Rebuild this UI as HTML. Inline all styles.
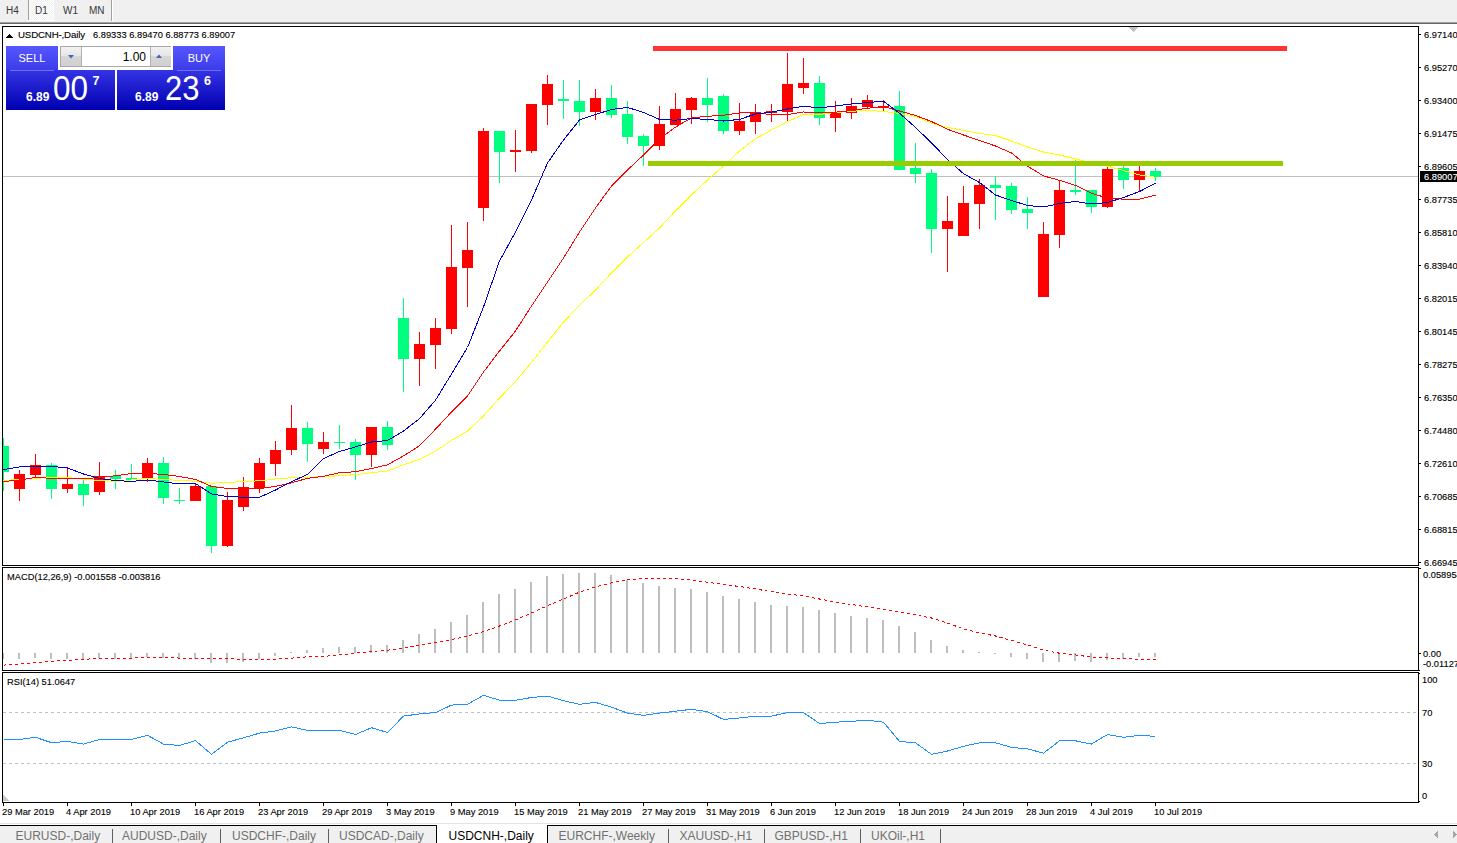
<!DOCTYPE html>
<html><head><meta charset="utf-8"><style>
html,body{margin:0;padding:0;background:#fff;width:1457px;height:843px;overflow:hidden;}
svg{position:absolute;left:0;top:0;}
.t text{font-family:"Liberation Sans", sans-serif;font-size:9.7px;fill:#000;stroke:#000;stroke-width:0.12px;}
.tb text{font-family:"Liberation Sans", sans-serif;font-size:10px;fill:#383838;}
.tabs text{font-family:"Liberation Sans", sans-serif;font-size:12px;}
#panel{position:absolute;left:6px;top:46px;width:219px;height:64px;font-family:"Liberation Sans", sans-serif;}
.btn{position:absolute;color:#fff;text-align:center;font-size:11px;}
</style></head><body>
<svg width="1457" height="843" viewBox="0 0 1457 843" shape-rendering="crispEdges">
<rect x="0" y="0" width="1457" height="22" fill="#F0F0F0"/>
<rect x="0" y="22" width="1457" height="1" fill="#A0A0A0"/>
<rect x="0" y="23" width="1457" height="1" fill="#696969"/>
<defs><pattern id="chk" width="2" height="2" patternUnits="userSpaceOnUse"><rect width="2" height="2" fill="#F0F0F0"/><rect width="1" height="1" fill="#FFFFFF"/><rect x="1" y="1" width="1" height="1" fill="#FFFFFF"/></pattern></defs>
<rect x="29" y="0" width="24" height="20" fill="url(#chk)"/>
<rect x="28" y="0" width="1" height="20" fill="#A0A0A0"/>
<rect x="28" y="20" width="26" height="1" fill="#FFFFFF"/>
<rect x="53" y="0" width="1" height="21" fill="#FFFFFF"/>
<rect x="111" y="0" width="1" height="21" fill="#A0A0A0"/>
<rect x="112" y="0" width="1" height="21" fill="#FFFFFF"/>
<rect x="2" y="26" width="1417" height="1" fill="#000000"/>
<rect x="2" y="565" width="1417" height="1" fill="#000000"/>
<rect x="2" y="26" width="1" height="540" fill="#000000"/>
<rect x="1418" y="26" width="1" height="540" fill="#000000"/>
<rect x="2" y="567" width="1417" height="1" fill="#000000"/>
<rect x="2" y="670" width="1417" height="1" fill="#000000"/>
<rect x="2" y="567" width="1" height="104" fill="#000000"/>
<rect x="1418" y="567" width="1" height="104" fill="#000000"/>
<rect x="2" y="672" width="1417" height="1" fill="#000000"/>
<rect x="2" y="802" width="1417" height="1" fill="#000000"/>
<rect x="2" y="672" width="1" height="131" fill="#000000"/>
<rect x="1418" y="672" width="1" height="131" fill="#000000"/>
<polygon points="1129,27 1138,27 1133.5,32" fill="#C0C0C0"/>
<polygon points="3,795 3,801 9,801" fill="#C8C8C8"/>
<defs><clipPath id="cm"><rect x="3" y="27" width="1415" height="538"/></clipPath><clipPath id="cmacd"><rect x="3" y="568" width="1415" height="102"/></clipPath><clipPath id="crsi"><rect x="3" y="673" width="1415" height="129"/></clipPath></defs>
<g clip-path="url(#cm)">
<rect x="3" y="176" width="1415" height="1" fill="#C0C0C0"/>
<rect x="3" y="438" width="1" height="53" fill="#00FF7F"/>
<rect x="-2" y="446" width="11" height="26" fill="#00FF7F"/>
<rect x="19" y="470" width="1" height="31" fill="#FF0000"/>
<rect x="14" y="474" width="11" height="15" fill="#FF0000"/>
<rect x="35" y="454" width="1" height="23" fill="#FF0000"/>
<rect x="30" y="465" width="11" height="10" fill="#FF0000"/>
<rect x="51" y="463" width="1" height="36" fill="#00FF7F"/>
<rect x="46" y="465" width="11" height="24" fill="#00FF7F"/>
<rect x="67" y="467" width="1" height="26" fill="#FF0000"/>
<rect x="62" y="484" width="11" height="5" fill="#FF0000"/>
<rect x="83" y="480" width="1" height="26" fill="#00FF7F"/>
<rect x="78" y="484" width="11" height="11" fill="#00FF7F"/>
<rect x="99" y="462" width="1" height="33" fill="#FF0000"/>
<rect x="94" y="476" width="11" height="16" fill="#FF0000"/>
<rect x="115" y="470" width="1" height="19" fill="#00FF7F"/>
<rect x="110" y="476" width="11" height="3" fill="#00FF7F"/>
<rect x="131" y="464" width="1" height="16" fill="#00FF7F"/>
<rect x="126" y="478" width="11" height="2" fill="#00FF7F"/>
<rect x="147" y="458" width="1" height="24" fill="#FF0000"/>
<rect x="142" y="463" width="11" height="16" fill="#FF0000"/>
<rect x="163" y="457" width="1" height="47" fill="#00FF7F"/>
<rect x="158" y="463" width="11" height="35" fill="#00FF7F"/>
<rect x="179" y="488" width="1" height="16" fill="#00FF7F"/>
<rect x="174" y="500" width="11" height="1" fill="#00FF7F"/>
<rect x="195" y="484" width="1" height="17" fill="#FF0000"/>
<rect x="190" y="486" width="11" height="15" fill="#FF0000"/>
<rect x="211" y="486" width="1" height="67" fill="#00FF7F"/>
<rect x="206" y="486" width="11" height="60" fill="#00FF7F"/>
<rect x="227" y="492" width="1" height="55" fill="#FF0000"/>
<rect x="222" y="500" width="11" height="46" fill="#FF0000"/>
<rect x="243" y="477" width="1" height="34" fill="#FF0000"/>
<rect x="238" y="487" width="11" height="20" fill="#FF0000"/>
<rect x="259" y="458" width="1" height="35" fill="#FF0000"/>
<rect x="254" y="463" width="11" height="25" fill="#FF0000"/>
<rect x="275" y="441" width="1" height="35" fill="#FF0000"/>
<rect x="270" y="450" width="11" height="14" fill="#FF0000"/>
<rect x="291" y="405" width="1" height="50" fill="#FF0000"/>
<rect x="286" y="428" width="11" height="22" fill="#FF0000"/>
<rect x="307" y="422" width="1" height="40" fill="#00FF7F"/>
<rect x="302" y="428" width="11" height="16" fill="#00FF7F"/>
<rect x="323" y="432" width="1" height="22" fill="#FF0000"/>
<rect x="318" y="442" width="11" height="7" fill="#FF0000"/>
<rect x="339" y="425" width="1" height="24" fill="#00FF7F"/>
<rect x="334" y="442" width="11" height="1" fill="#00FF7F"/>
<rect x="355" y="439" width="1" height="41" fill="#00FF7F"/>
<rect x="350" y="442" width="11" height="13" fill="#00FF7F"/>
<rect x="371" y="427" width="1" height="40" fill="#FF0000"/>
<rect x="366" y="427" width="11" height="28" fill="#FF0000"/>
<rect x="387" y="421" width="1" height="29" fill="#00FF7F"/>
<rect x="382" y="427" width="11" height="18" fill="#00FF7F"/>
<rect x="403" y="298" width="1" height="94" fill="#00FF7F"/>
<rect x="398" y="318" width="11" height="41" fill="#00FF7F"/>
<rect x="419" y="332" width="1" height="54" fill="#FF0000"/>
<rect x="414" y="344" width="11" height="15" fill="#FF0000"/>
<rect x="435" y="318" width="1" height="51" fill="#FF0000"/>
<rect x="430" y="328" width="11" height="17" fill="#FF0000"/>
<rect x="451" y="225" width="1" height="109" fill="#FF0000"/>
<rect x="446" y="267" width="11" height="62" fill="#FF0000"/>
<rect x="467" y="222" width="1" height="85" fill="#FF0000"/>
<rect x="462" y="250" width="11" height="18" fill="#FF0000"/>
<rect x="483" y="128" width="1" height="93" fill="#FF0000"/>
<rect x="478" y="131" width="11" height="77" fill="#FF0000"/>
<rect x="499" y="131" width="1" height="52" fill="#00FF7F"/>
<rect x="494" y="131" width="11" height="21" fill="#00FF7F"/>
<rect x="515" y="130" width="1" height="42" fill="#FF0000"/>
<rect x="510" y="150" width="11" height="2" fill="#FF0000"/>
<rect x="531" y="104" width="1" height="49" fill="#FF0000"/>
<rect x="526" y="104" width="11" height="47" fill="#FF0000"/>
<rect x="547" y="75" width="1" height="50" fill="#FF0000"/>
<rect x="542" y="84" width="11" height="21" fill="#FF0000"/>
<rect x="563" y="80" width="1" height="39" fill="#00FF7F"/>
<rect x="558" y="99" width="11" height="2" fill="#00FF7F"/>
<rect x="579" y="80" width="1" height="46" fill="#00FF7F"/>
<rect x="574" y="101" width="11" height="11" fill="#00FF7F"/>
<rect x="595" y="89" width="1" height="31" fill="#FF0000"/>
<rect x="590" y="98" width="11" height="14" fill="#FF0000"/>
<rect x="611" y="85" width="1" height="33" fill="#00FF7F"/>
<rect x="606" y="98" width="11" height="17" fill="#00FF7F"/>
<rect x="627" y="101" width="1" height="43" fill="#00FF7F"/>
<rect x="622" y="114" width="11" height="23" fill="#00FF7F"/>
<rect x="643" y="134" width="1" height="32" fill="#00FF7F"/>
<rect x="638" y="136" width="11" height="10" fill="#00FF7F"/>
<rect x="659" y="106" width="1" height="44" fill="#FF0000"/>
<rect x="654" y="124" width="11" height="22" fill="#FF0000"/>
<rect x="675" y="93" width="1" height="32" fill="#FF0000"/>
<rect x="670" y="109" width="11" height="16" fill="#FF0000"/>
<rect x="691" y="97" width="1" height="27" fill="#FF0000"/>
<rect x="686" y="98" width="11" height="12" fill="#FF0000"/>
<rect x="707" y="78" width="1" height="44" fill="#00FF7F"/>
<rect x="702" y="98" width="11" height="7" fill="#00FF7F"/>
<rect x="723" y="94" width="1" height="40" fill="#00FF7F"/>
<rect x="718" y="96" width="11" height="35" fill="#00FF7F"/>
<rect x="739" y="103" width="1" height="32" fill="#FF0000"/>
<rect x="734" y="121" width="11" height="10" fill="#FF0000"/>
<rect x="755" y="104" width="1" height="30" fill="#FF0000"/>
<rect x="750" y="112" width="11" height="10" fill="#FF0000"/>
<rect x="771" y="104" width="1" height="18" fill="#FF0000"/>
<rect x="766" y="111" width="11" height="2" fill="#FF0000"/>
<rect x="787" y="53" width="1" height="69" fill="#FF0000"/>
<rect x="782" y="84" width="11" height="28" fill="#FF0000"/>
<rect x="803" y="58" width="1" height="36" fill="#FF0000"/>
<rect x="798" y="83" width="11" height="5" fill="#FF0000"/>
<rect x="819" y="76" width="1" height="49" fill="#00FF7F"/>
<rect x="814" y="83" width="11" height="35" fill="#00FF7F"/>
<rect x="835" y="101" width="1" height="31" fill="#FF0000"/>
<rect x="830" y="112" width="11" height="6" fill="#FF0000"/>
<rect x="851" y="98" width="1" height="21" fill="#FF0000"/>
<rect x="846" y="106" width="11" height="7" fill="#FF0000"/>
<rect x="867" y="95" width="1" height="13" fill="#FF0000"/>
<rect x="862" y="100" width="11" height="7" fill="#FF0000"/>
<rect x="883" y="100" width="1" height="11" fill="#FF0000"/>
<rect x="878" y="106" width="11" height="2" fill="#FF0000"/>
<rect x="899" y="91" width="1" height="79" fill="#00FF7F"/>
<rect x="894" y="106" width="11" height="64" fill="#00FF7F"/>
<rect x="915" y="143" width="1" height="40" fill="#00FF7F"/>
<rect x="910" y="168" width="11" height="6" fill="#00FF7F"/>
<rect x="931" y="169" width="1" height="84" fill="#00FF7F"/>
<rect x="926" y="173" width="11" height="56" fill="#00FF7F"/>
<rect x="947" y="196" width="1" height="76" fill="#FF0000"/>
<rect x="942" y="221" width="11" height="8" fill="#FF0000"/>
<rect x="963" y="186" width="1" height="50" fill="#FF0000"/>
<rect x="958" y="203" width="11" height="33" fill="#FF0000"/>
<rect x="979" y="179" width="1" height="50" fill="#FF0000"/>
<rect x="974" y="185" width="11" height="19" fill="#FF0000"/>
<rect x="995" y="176" width="1" height="44" fill="#00FF7F"/>
<rect x="990" y="185" width="11" height="3" fill="#00FF7F"/>
<rect x="1011" y="183" width="1" height="31" fill="#00FF7F"/>
<rect x="1006" y="186" width="11" height="24" fill="#00FF7F"/>
<rect x="1027" y="197" width="1" height="32" fill="#00FF7F"/>
<rect x="1022" y="209" width="11" height="4" fill="#00FF7F"/>
<rect x="1043" y="222" width="1" height="75" fill="#FF0000"/>
<rect x="1038" y="234" width="11" height="63" fill="#FF0000"/>
<rect x="1059" y="180" width="1" height="68" fill="#FF0000"/>
<rect x="1054" y="190" width="11" height="45" fill="#FF0000"/>
<rect x="1075" y="160" width="1" height="35" fill="#00FF7F"/>
<rect x="1070" y="190" width="11" height="2" fill="#00FF7F"/>
<rect x="1091" y="190" width="1" height="23" fill="#00FF7F"/>
<rect x="1086" y="190" width="11" height="17" fill="#00FF7F"/>
<rect x="1107" y="166" width="1" height="42" fill="#FF0000"/>
<rect x="1102" y="169" width="11" height="38" fill="#FF0000"/>
<rect x="1123" y="166" width="1" height="23" fill="#00FF7F"/>
<rect x="1118" y="168" width="11" height="12" fill="#00FF7F"/>
<rect x="1139" y="166" width="1" height="25" fill="#FF0000"/>
<rect x="1134" y="171" width="11" height="9" fill="#FF0000"/>
<rect x="1155" y="168" width="1" height="13" fill="#00FF7F"/>
<rect x="1150" y="171" width="11" height="6" fill="#00FF7F"/>
<polyline points="3.5,480.5 19.5,479.5 35.5,478.3 51.5,477.5 67.5,477.5 83.5,479.3 99.5,480.4 115.5,481.4 131.5,480 147.5,478.4 163.5,479.5 179.5,480.4 195.5,481.2 211.5,483.2 227.5,482.5 243.5,481.6 259.5,480.8 275.5,479 291.5,477.7 307.5,477.3 323.5,476.7 339.5,475.7 355.5,474.7 371.5,472.7 387.5,471 403.5,464.8 419.5,459.2 435.5,451.2 451.5,440.5 467.5,431 483.5,416 499.5,398 515.5,381.5 531.5,362.5 547.5,342 563.5,322 579.5,305.5 595.5,290 611.5,273 627.5,257 643.5,242.5 659.5,228 675.5,211 691.5,195 707.5,180 723.5,166 739.5,151 755.5,138.7 771.5,129.9 787.5,121.7 803.5,114.5 819.5,114.5 835.5,112.5 851.5,111.2 867.5,110.5 883.5,111.4 899.5,113.5 915.5,116.4 931.5,123.2 947.5,127.4 963.5,130.5 979.5,133.4 995.5,135.7 1011.5,141 1027.5,147 1043.5,152 1059.5,155 1075.5,159 1091.5,163 1107.5,166.2 1123.5,170.5 1139.5,175 1155.5,177.2" fill="none" stroke="#FFFF00" stroke-width="1"/>
<polyline points="3.5,481.5 19.5,480 35.5,477.5 51.5,478.3 67.5,478.3 83.5,479 99.5,477.4 115.5,475.8 131.5,473.5 147.5,473.5 163.5,474.4 179.5,476.5 195.5,479.4 211.5,486.4 227.5,488.4 243.5,489 259.5,488.6 275.5,486.4 291.5,482.8 307.5,478.3 323.5,476.3 339.5,472.7 355.5,471.7 371.5,468.6 387.5,464.8 403.5,455.9 419.5,445.8 435.5,429.2 451.5,412 467.5,396 483.5,372 499.5,351 515.5,331 531.5,306 547.5,282 563.5,258 579.5,232 595.5,208 611.5,186 627.5,170 643.5,155 659.5,139 675.5,127.1 691.5,117.9 707.5,116.3 723.5,115.2 739.5,113 755.5,112.5 771.5,114.8 787.5,114.5 803.5,112 819.5,112.5 835.5,112.2 851.5,110.5 867.5,108.3 883.5,106.6 899.5,111 915.5,115.5 931.5,121.5 947.5,129.3 963.5,135 979.5,140.5 995.5,146 1011.5,153 1027.5,166.2 1043.5,175.9 1059.5,180.3 1075.5,185.4 1091.5,193.4 1107.5,198 1123.5,199.2 1139.5,199.2 1155.5,195" fill="none" stroke="#FF0000" stroke-width="1"/>
<polyline points="3.5,469.5 19.5,467 35.5,466.3 51.5,466.3 67.5,468 83.5,474 99.5,478.5 115.5,480.6 131.5,481.4 147.5,480 163.5,482 179.5,484 195.5,483.5 211.5,493.9 227.5,496.5 243.5,497.3 259.5,497.3 275.5,490 291.5,481.8 307.5,474.3 323.5,458.6 339.5,451.5 355.5,446.9 371.5,442 387.5,440.5 403.5,431 419.5,418.6 435.5,400.2 451.5,374 467.5,347.5 483.5,307 499.5,261 515.5,232 531.5,200 547.5,163 563.5,140 579.5,120 595.5,114.5 611.5,109.5 627.5,107.4 643.5,112.5 659.5,119.4 675.5,120.2 691.5,118.6 707.5,119.4 723.5,121 739.5,119.4 755.5,114 771.5,112.2 787.5,109 803.5,106.3 819.5,107.8 835.5,106 851.5,104 867.5,102.5 883.5,101.3 899.5,113.2 915.5,127.4 931.5,142.9 947.5,159.5 963.5,173.7 979.5,182.5 995.5,195 1011.5,200.5 1027.5,205.5 1043.5,207 1059.5,203.5 1075.5,201.5 1091.5,204 1107.5,202.5 1123.5,197.5 1139.5,191.5 1155.5,183.3" fill="none" stroke="#0000CC" stroke-width="1"/>
<rect x="653" y="46" width="634" height="5" fill="#FF3333"/>
<rect x="648" y="161" width="635" height="5" fill="#99CC00"/>
</g>
<g clip-path="url(#cmacd)">
<rect x="2" y="653" width="2" height="5.5" fill="#BEBEBE"/>
<rect x="18" y="653" width="2" height="5.5" fill="#BEBEBE"/>
<rect x="34" y="653" width="2" height="5" fill="#BEBEBE"/>
<rect x="50" y="653" width="2" height="5.5" fill="#BEBEBE"/>
<rect x="66" y="653" width="2" height="5.5" fill="#BEBEBE"/>
<rect x="82" y="653" width="2" height="6" fill="#BEBEBE"/>
<rect x="98" y="653" width="2" height="5" fill="#BEBEBE"/>
<rect x="114" y="653" width="2" height="5.5" fill="#BEBEBE"/>
<rect x="130" y="653" width="2" height="5" fill="#BEBEBE"/>
<rect x="146" y="653" width="2" height="3.7999999999999545" fill="#BEBEBE"/>
<rect x="162" y="653" width="2" height="4.5" fill="#BEBEBE"/>
<rect x="178" y="653" width="2" height="5" fill="#BEBEBE"/>
<rect x="194" y="653" width="2" height="5.5" fill="#BEBEBE"/>
<rect x="210" y="653" width="2" height="9.5" fill="#BEBEBE"/>
<rect x="226" y="653" width="2" height="9.5" fill="#BEBEBE"/>
<rect x="242" y="653" width="2" height="8.799999999999955" fill="#BEBEBE"/>
<rect x="258" y="653" width="2" height="5.5" fill="#BEBEBE"/>
<rect x="274" y="653" width="2" height="3.3999999999999773" fill="#BEBEBE"/>
<rect x="290" y="652" width="2" height="1" fill="#BEBEBE"/>
<rect x="306" y="650.2" width="2" height="2.7999999999999545" fill="#BEBEBE"/>
<rect x="322" y="648.3" width="2" height="4.7000000000000455" fill="#BEBEBE"/>
<rect x="338" y="647" width="2" height="6" fill="#BEBEBE"/>
<rect x="354" y="647" width="2" height="6" fill="#BEBEBE"/>
<rect x="370" y="645" width="2" height="8" fill="#BEBEBE"/>
<rect x="386" y="645" width="2" height="8" fill="#BEBEBE"/>
<rect x="402" y="640" width="2" height="13" fill="#BEBEBE"/>
<rect x="418" y="634.2" width="2" height="18.799999999999955" fill="#BEBEBE"/>
<rect x="434" y="629.2" width="2" height="23.799999999999955" fill="#BEBEBE"/>
<rect x="450" y="622.3" width="2" height="30.700000000000045" fill="#BEBEBE"/>
<rect x="466" y="615.2" width="2" height="37.799999999999955" fill="#BEBEBE"/>
<rect x="482" y="602" width="2" height="51" fill="#BEBEBE"/>
<rect x="498" y="594.2" width="2" height="58.799999999999955" fill="#BEBEBE"/>
<rect x="514" y="589.2" width="2" height="63.799999999999955" fill="#BEBEBE"/>
<rect x="530" y="582.3" width="2" height="70.70000000000005" fill="#BEBEBE"/>
<rect x="546" y="576.1" width="2" height="76.89999999999998" fill="#BEBEBE"/>
<rect x="562" y="574.1" width="2" height="78.89999999999998" fill="#BEBEBE"/>
<rect x="578" y="573.2" width="2" height="79.79999999999995" fill="#BEBEBE"/>
<rect x="594" y="573.2" width="2" height="79.79999999999995" fill="#BEBEBE"/>
<rect x="610" y="575.4" width="2" height="77.60000000000002" fill="#BEBEBE"/>
<rect x="626" y="579.8" width="2" height="73.20000000000005" fill="#BEBEBE"/>
<rect x="642" y="583" width="2" height="70" fill="#BEBEBE"/>
<rect x="658" y="586.3" width="2" height="66.70000000000005" fill="#BEBEBE"/>
<rect x="674" y="588" width="2" height="65" fill="#BEBEBE"/>
<rect x="690" y="589" width="2" height="64" fill="#BEBEBE"/>
<rect x="706" y="592" width="2" height="61" fill="#BEBEBE"/>
<rect x="722" y="596" width="2" height="57" fill="#BEBEBE"/>
<rect x="738" y="599" width="2" height="54" fill="#BEBEBE"/>
<rect x="754" y="602" width="2" height="51" fill="#BEBEBE"/>
<rect x="770" y="605" width="2" height="48" fill="#BEBEBE"/>
<rect x="786" y="606" width="2" height="47" fill="#BEBEBE"/>
<rect x="802" y="607" width="2" height="46" fill="#BEBEBE"/>
<rect x="818" y="610" width="2" height="43" fill="#BEBEBE"/>
<rect x="834" y="613" width="2" height="40" fill="#BEBEBE"/>
<rect x="850" y="616" width="2" height="37" fill="#BEBEBE"/>
<rect x="866" y="618" width="2" height="35" fill="#BEBEBE"/>
<rect x="882" y="620" width="2" height="33" fill="#BEBEBE"/>
<rect x="898" y="626" width="2" height="27" fill="#BEBEBE"/>
<rect x="914" y="632" width="2" height="21" fill="#BEBEBE"/>
<rect x="930" y="640" width="2" height="13" fill="#BEBEBE"/>
<rect x="946" y="645.8" width="2" height="7.2000000000000455" fill="#BEBEBE"/>
<rect x="962" y="649.8" width="2" height="3.2000000000000455" fill="#BEBEBE"/>
<rect x="978" y="651.7" width="2" height="1.2999999999999545" fill="#BEBEBE"/>
<rect x="994" y="652.5" width="2" height="1" fill="#BEBEBE"/>
<rect x="1010" y="653" width="2" height="3.7000000000000455" fill="#BEBEBE"/>
<rect x="1026" y="653" width="2" height="5.7999999999999545" fill="#BEBEBE"/>
<rect x="1042" y="653" width="2" height="8.799999999999955" fill="#BEBEBE"/>
<rect x="1058" y="653" width="2" height="8.799999999999955" fill="#BEBEBE"/>
<rect x="1074" y="653" width="2" height="7.7999999999999545" fill="#BEBEBE"/>
<rect x="1090" y="653" width="2" height="8.799999999999955" fill="#BEBEBE"/>
<rect x="1106" y="653" width="2" height="6.600000000000023" fill="#BEBEBE"/>
<rect x="1122" y="653" width="2" height="5.5" fill="#BEBEBE"/>
<rect x="1138" y="653" width="2" height="3.7000000000000455" fill="#BEBEBE"/>
<rect x="1154" y="653" width="2" height="3.7000000000000455" fill="#BEBEBE"/>
<polyline points="3.5,665.1 19.5,664 35.5,662.5 51.5,661.4 67.5,660.3 83.5,659.2 99.5,658.6 115.5,658.3 131.5,658.1 147.5,657.5 163.5,657 179.5,658.1 195.5,658.3 211.5,658.6 227.5,658.8 243.5,659.2 259.5,659.2 275.5,659.2 291.5,658.1 307.5,656.8 323.5,656.4 339.5,655 355.5,653.2 371.5,651.5 387.5,650.2 403.5,648 419.5,645.3 435.5,642.5 451.5,639.6 467.5,636 483.5,631.7 499.5,626 515.5,619.9 531.5,613 547.5,605.8 563.5,599 579.5,592.2 595.5,587 611.5,582.8 627.5,580 643.5,578.6 659.5,578.6 675.5,578.6 691.5,579.8 707.5,582.3 723.5,584.5 739.5,586.5 755.5,589 771.5,591.7 787.5,594 803.5,595.9 819.5,599 835.5,602 851.5,604.5 867.5,607 883.5,609.5 899.5,612 915.5,615 931.5,618 947.5,623 963.5,629 979.5,632.8 995.5,636 1011.5,640.4 1027.5,645 1043.5,650.2 1059.5,653.2 1075.5,655 1091.5,657 1107.5,658 1123.5,658.5 1139.5,659.3 1155.5,659.3" fill="none" stroke="#FF0000" stroke-width="1" stroke-dasharray="3,3"/>
</g>
<g clip-path="url(#crsi)">
<line x1="3" y1="712.5" x2="1418" y2="712.5" stroke="#C0C0C0" stroke-width="1" stroke-dasharray="3,3"/>
<line x1="3" y1="763.5" x2="1418" y2="763.5" stroke="#C0C0C0" stroke-width="1" stroke-dasharray="3,3"/>
<polyline points="3.5,739.5 19.5,739.5 35.5,737.3 51.5,742.7 67.5,741.4 83.5,744.1 99.5,739.5 115.5,739.5 131.5,739.5 147.5,735.3 163.5,744.1 179.5,745.5 195.5,740.6 211.5,754.3 227.5,742.2 243.5,737.8 259.5,733.1 275.5,731 291.5,726.8 307.5,730.4 323.5,730.4 339.5,730.4 355.5,734.5 371.5,727.7 387.5,732.5 403.5,716.1 419.5,713.9 435.5,712.6 451.5,705.1 467.5,704.3 483.5,695.3 499.5,700.2 515.5,700.2 531.5,697.5 547.5,696.1 563.5,700.7 579.5,704.3 595.5,702.4 611.5,707.1 627.5,713.1 643.5,715.3 659.5,713.1 675.5,711.2 691.5,709.3 707.5,711.7 723.5,719.4 739.5,718 755.5,716.1 771.5,716.1 787.5,712.6 803.5,712.6 819.5,723.5 835.5,722.2 851.5,721.3 867.5,720.2 883.5,722.2 899.5,741.4 915.5,742.8 931.5,754.3 947.5,751 963.5,746.3 979.5,742.8 995.5,742.8 1011.5,747.4 1027.5,748.8 1043.5,753.2 1059.5,740.8 1075.5,740.8 1091.5,744.1 1107.5,734.5 1123.5,737.3 1139.5,735.3 1155.5,736.4" fill="none" stroke="#1E90FF" stroke-width="1"/>
</g>
<rect x="1419" y="34" width="2" height="1" fill="#000"/>
<rect x="1419" y="67" width="2" height="1" fill="#000"/>
<rect x="1419" y="100" width="2" height="1" fill="#000"/>
<rect x="1419" y="133" width="2" height="1" fill="#000"/>
<rect x="1419" y="166" width="2" height="1" fill="#000"/>
<rect x="1419" y="199" width="2" height="1" fill="#000"/>
<rect x="1419" y="232" width="2" height="1" fill="#000"/>
<rect x="1419" y="265" width="2" height="1" fill="#000"/>
<rect x="1419" y="298" width="2" height="1" fill="#000"/>
<rect x="1419" y="331" width="2" height="1" fill="#000"/>
<rect x="1419" y="364" width="2" height="1" fill="#000"/>
<rect x="1419" y="397" width="2" height="1" fill="#000"/>
<rect x="1419" y="430" width="2" height="1" fill="#000"/>
<rect x="1419" y="463" width="2" height="1" fill="#000"/>
<rect x="1419" y="496" width="2" height="1" fill="#000"/>
<rect x="1419" y="529" width="2" height="1" fill="#000"/>
<rect x="1419" y="562" width="2" height="1" fill="#000"/>
<rect x="1420" y="171" width="37" height="11" fill="#000"/>
<rect x="1419" y="568" width="2" height="1" fill="#000"/>
<rect x="1419" y="653" width="2" height="1" fill="#000"/>
<rect x="1419" y="670" width="1" height="1" fill="#000"/>
<rect x="1419" y="673" width="1" height="1" fill="#000"/>
<rect x="1419" y="801" width="1" height="1" fill="#000"/>
<rect x="3" y="803" width="1" height="3" fill="#000"/>
<rect x="67" y="803" width="1" height="3" fill="#000"/>
<rect x="131" y="803" width="1" height="3" fill="#000"/>
<rect x="195" y="803" width="1" height="3" fill="#000"/>
<rect x="259" y="803" width="1" height="3" fill="#000"/>
<rect x="323" y="803" width="1" height="3" fill="#000"/>
<rect x="387" y="803" width="1" height="3" fill="#000"/>
<rect x="451" y="803" width="1" height="3" fill="#000"/>
<rect x="515" y="803" width="1" height="3" fill="#000"/>
<rect x="579" y="803" width="1" height="3" fill="#000"/>
<rect x="643" y="803" width="1" height="3" fill="#000"/>
<rect x="707" y="803" width="1" height="3" fill="#000"/>
<rect x="771" y="803" width="1" height="3" fill="#000"/>
<rect x="835" y="803" width="1" height="3" fill="#000"/>
<rect x="899" y="803" width="1" height="3" fill="#000"/>
<rect x="963" y="803" width="1" height="3" fill="#000"/>
<rect x="1027" y="803" width="1" height="3" fill="#000"/>
<rect x="1091" y="803" width="1" height="3" fill="#000"/>
<rect x="1155" y="803" width="1" height="3" fill="#000"/>
<polygon points="6,37.5 13,37.5 9.5,33.5" fill="#000"/>
<rect x="0" y="823" width="1457" height="1" fill="#E3E3E3"/>
<rect x="0" y="826" width="1457" height="17" fill="#F0F0F0"/>
<rect x="0" y="825" width="1457" height="1" fill="#000"/>
<rect x="437" y="825" width="110" height="18" fill="#FFFFFF"/>
<rect x="436" y="825" width="1" height="19" fill="#000000"/>
<rect x="547" y="825" width="1" height="19" fill="#000000"/>
<rect x="112" y="829" width="1" height="14" fill="#606060"/>
<rect x="220" y="829" width="1" height="14" fill="#606060"/>
<rect x="328" y="829" width="1" height="14" fill="#606060"/>
<rect x="668" y="829" width="1" height="14" fill="#606060"/>
<rect x="764" y="829" width="1" height="14" fill="#606060"/>
<rect x="860" y="829" width="1" height="14" fill="#606060"/>
<rect x="940" y="829" width="1" height="14" fill="#606060"/>
<polygon points="1438,831 1438,838 1434,834.5" fill="#A8A8A8"/>
<polygon points="1453,831 1453,838 1457,834.5" fill="#A8A8A8"/>
<g class="t" shape-rendering="auto">
<text x="1424" y="38" textLength="33.62" lengthAdjust="spacingAndGlyphs">6.97140</text>
<text x="1424" y="71" textLength="33.62" lengthAdjust="spacingAndGlyphs">6.95270</text>
<text x="1424" y="104" textLength="33.62" lengthAdjust="spacingAndGlyphs">6.93400</text>
<text x="1424" y="137" textLength="33.62" lengthAdjust="spacingAndGlyphs">6.91475</text>
<text x="1424" y="170" textLength="33.62" lengthAdjust="spacingAndGlyphs">6.89605</text>
<text x="1424" y="203" textLength="33.62" lengthAdjust="spacingAndGlyphs">6.87735</text>
<text x="1424" y="236" textLength="33.62" lengthAdjust="spacingAndGlyphs">6.85810</text>
<text x="1424" y="269" textLength="33.62" lengthAdjust="spacingAndGlyphs">6.83940</text>
<text x="1424" y="302" textLength="33.62" lengthAdjust="spacingAndGlyphs">6.82015</text>
<text x="1424" y="335" textLength="33.62" lengthAdjust="spacingAndGlyphs">6.80145</text>
<text x="1424" y="368" textLength="33.62" lengthAdjust="spacingAndGlyphs">6.78275</text>
<text x="1424" y="401" textLength="33.62" lengthAdjust="spacingAndGlyphs">6.76350</text>
<text x="1424" y="434" textLength="33.62" lengthAdjust="spacingAndGlyphs">6.74480</text>
<text x="1424" y="467" textLength="33.62" lengthAdjust="spacingAndGlyphs">6.72610</text>
<text x="1424" y="500" textLength="33.62" lengthAdjust="spacingAndGlyphs">6.70685</text>
<text x="1424" y="533" textLength="33.62" lengthAdjust="spacingAndGlyphs">6.68815</text>
<text x="1424" y="566" textLength="33.62" lengthAdjust="spacingAndGlyphs">6.66945</text>
<text x="1424" y="180" style="fill:#FFFFFF;stroke:#FFFFFF;stroke-width:0.1px" textLength="33.62" lengthAdjust="spacingAndGlyphs">6.89007</text>
<text x="1423" y="578" textLength="38.79" lengthAdjust="spacingAndGlyphs">0.058954</text>
<text x="1423" y="657" textLength="18.10" lengthAdjust="spacingAndGlyphs">0.00</text>
<text x="1423" y="667" textLength="41.20" lengthAdjust="spacingAndGlyphs">-0.011273</text>
<text x="1422" y="683" textLength="15.52" lengthAdjust="spacingAndGlyphs">100</text>
<text x="1422" y="716" textLength="10.34" lengthAdjust="spacingAndGlyphs">70</text>
<text x="1422" y="767" textLength="10.34" lengthAdjust="spacingAndGlyphs">30</text>
<text x="1422" y="799" textLength="5.17" lengthAdjust="spacingAndGlyphs">0</text>
<text x="2" y="815" textLength="52.22" lengthAdjust="spacingAndGlyphs">29 Mar 2019</text>
<text x="66" y="815" textLength="44.99" lengthAdjust="spacingAndGlyphs">4 Apr 2019</text>
<text x="130" y="815" textLength="50.16" lengthAdjust="spacingAndGlyphs">10 Apr 2019</text>
<text x="194" y="815" textLength="50.16" lengthAdjust="spacingAndGlyphs">16 Apr 2019</text>
<text x="258" y="815" textLength="50.16" lengthAdjust="spacingAndGlyphs">23 Apr 2019</text>
<text x="322" y="815" textLength="50.16" lengthAdjust="spacingAndGlyphs">29 Apr 2019</text>
<text x="386" y="815" textLength="48.60" lengthAdjust="spacingAndGlyphs">3 May 2019</text>
<text x="450" y="815" textLength="48.60" lengthAdjust="spacingAndGlyphs">9 May 2019</text>
<text x="514" y="815" textLength="53.77" lengthAdjust="spacingAndGlyphs">15 May 2019</text>
<text x="578" y="815" textLength="53.77" lengthAdjust="spacingAndGlyphs">21 May 2019</text>
<text x="642" y="815" textLength="53.77" lengthAdjust="spacingAndGlyphs">27 May 2019</text>
<text x="706" y="815" textLength="53.77" lengthAdjust="spacingAndGlyphs">31 May 2019</text>
<text x="770" y="815" textLength="46.02" lengthAdjust="spacingAndGlyphs">6 Jun 2019</text>
<text x="834" y="815" textLength="51.20" lengthAdjust="spacingAndGlyphs">12 Jun 2019</text>
<text x="898" y="815" textLength="51.20" lengthAdjust="spacingAndGlyphs">18 Jun 2019</text>
<text x="962" y="815" textLength="51.20" lengthAdjust="spacingAndGlyphs">24 Jun 2019</text>
<text x="1026" y="815" textLength="51.20" lengthAdjust="spacingAndGlyphs">28 Jun 2019</text>
<text x="1090" y="815" textLength="42.92" lengthAdjust="spacingAndGlyphs">4 Jul 2019</text>
<text x="1154" y="815" textLength="48.09" lengthAdjust="spacingAndGlyphs">10 Jul 2019</text>
<text x="7" y="580" textLength="153.55" lengthAdjust="spacingAndGlyphs">MACD(12,26,9) -0.001558 -0.003816</text>
<text x="7" y="685" textLength="68.24" lengthAdjust="spacingAndGlyphs">RSI(14) 51.0647</text>
<text x="18" y="38" textLength="67" lengthAdjust="spacing">USDCNH-,Daily</text><text x="93" y="38" textLength="142.22" lengthAdjust="spacingAndGlyphs">6.89333 6.89470 6.88773 6.89007</text>
</g>
<g class="tb">
<text x="6" y="14">H4</text>
<text x="35" y="14">D1</text>
<text x="63" y="14">W1</text>
<text x="89" y="14">MN</text>
</g>
<g class="tabs">
<text x="15.5" y="839.5" fill="#707070">EURUSD-,Daily</text>
<text x="122" y="839.5" fill="#707070">AUDUSD-,Daily</text>
<text x="232" y="839.5" fill="#707070">USDCHF-,Daily</text>
<text x="339" y="839.5" fill="#707070">USDCAD-,Daily</text>
<text x="558.5" y="839.5" fill="#707070">EURCHF-,Weekly</text>
<text x="679.5" y="839.5" fill="#707070">XAUUSD-,H1</text>
<text x="774.5" y="839.5" fill="#707070">GBPUSD-,H1</text>
<text x="871" y="839.5" fill="#707070">UKOil-,H1</text>
<text x="448.5" y="839.5" fill="#000">USDCNH-,Daily</text>
</g>
</svg>
<div id="panel">
  <div style="position:absolute;left:0;top:0;width:52px;height:24px;background:linear-gradient(#5757FF,#3C3CEA);"></div>
  <div style="position:absolute;left:167px;top:0;width:52px;height:24px;background:linear-gradient(#5757FF,#3C3CEA);"></div>
  <div style="position:absolute;left:0;top:24px;width:109px;height:40px;background:linear-gradient(#3434E4,#0000B0);"></div>
  <div style="position:absolute;left:111px;top:24px;width:108px;height:40px;background:linear-gradient(#3434E4,#0000B0);"></div>
  <div style="position:absolute;left:4px;top:24px;width:44px;height:1px;background:#7070FF;"></div>
  <div style="position:absolute;left:171px;top:24px;width:44px;height:1px;background:#7070FF;"></div>
  <div style="position:absolute;left:54px;top:0;width:111px;height:21px;background:#fff;box-sizing:border-box;border:1px solid #A8A8A8;"></div>
  <div style="position:absolute;left:55px;top:1px;width:20px;height:19px;background:linear-gradient(#F2F2F2 0%,#E6E6E6 45%,#D6D6D6 50%,#D0D0D0 100%);border-right:1px solid #B0B0B0;"></div>
  <div style="position:absolute;left:144px;top:1px;width:20px;height:19px;background:linear-gradient(#F2F2F2 0%,#E6E6E6 45%,#D6D6D6 50%,#D0D0D0 100%);border-left:1px solid #B0B0B0;"></div>
  <svg style="position:absolute;left:0;top:0" width="219" height="64">
    <polygon points="62,9 68,9 65,12.5" fill="#4A5FC0"/>
    <polygon points="150,12 156,12 153,8.5" fill="#4A5FC0"/>
  </svg>
  <div style="position:absolute;left:0;top:5px;width:52px;text-align:center;color:#fff;font-size:11px;line-height:14px;">SELL</div>
  <div style="position:absolute;left:167px;top:5px;width:52px;text-align:center;color:#fff;font-size:11px;line-height:14px;">BUY</div>
  <div style="position:absolute;left:76px;top:4px;width:64px;text-align:right;color:#000;font-size:12px;line-height:14px;">1.00</div>
  <div style="position:absolute;left:20px;top:44px;color:#fff;font-size:12px;font-weight:bold;line-height:14px;">6.89</div>
  <div style="position:absolute;left:47px;top:24px;color:#fff;font-size:35px;line-height:35px;transform:scaleX(0.9);transform-origin:0 0;">00</div>
  <div style="position:absolute;left:86.5px;top:28px;color:#fff;font-size:12.5px;font-weight:bold;line-height:14px;">7</div>
  <div style="position:absolute;left:129px;top:44px;color:#fff;font-size:12px;font-weight:bold;line-height:14px;">6.89</div>
  <div style="position:absolute;left:159px;top:24px;color:#fff;font-size:35px;line-height:35px;transform:scaleX(0.885);transform-origin:0 0;">23</div>
  <div style="position:absolute;left:198px;top:28px;color:#fff;font-size:12.5px;font-weight:bold;line-height:14px;">6</div>
</div>
</body></html>
